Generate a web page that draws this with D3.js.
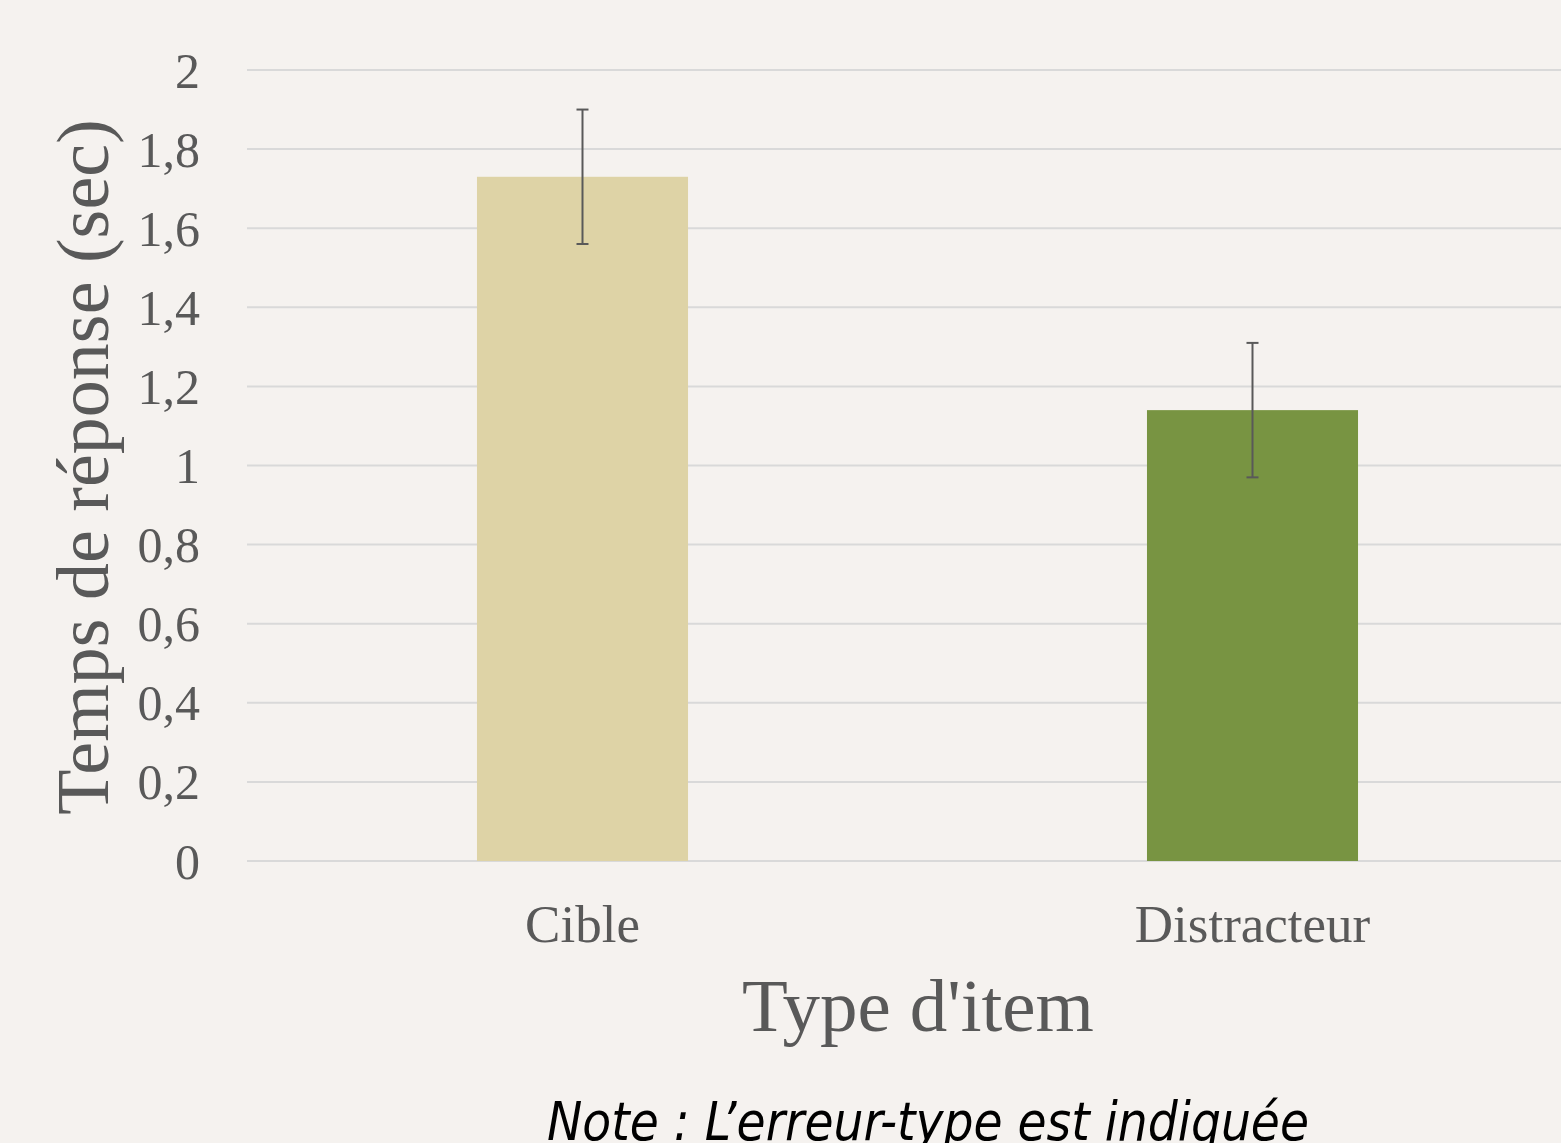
<!DOCTYPE html>
<html><head><meta charset="utf-8">
<script src="https://cdn.jsdelivr.net/npm/d3@7"></script>
<style>html,body{margin:0;padding:0;background:#f5f2ef;}svg{display:block;}</style>
</head><body>
<svg id="c" width="1561" height="1143"></svg>
<script>
const categories = ["Cible", "Distracteur"];
const means = [1.73, 1.14];
const stdErrors = [0.17, 0.17];
const barColors = ["#ded3a6", "#789442"];
const yTicks = [0, 0.2, 0.4, 0.6, 0.8, 1, 1.2, 1.4, 1.6, 1.8, 2];
const yTitle = "Temps de réponse (sec)";
const xTitle = "Type d'item";
const note = "Note : L’erreur-type est indiquée";

const svg = d3.select("#c");
svg.append("rect").attr("width",1561).attr("height",1143).attr("fill","#f5f2ef");
const x = d3.scaleBand().domain(categories).range([247.5, 1587.5]).paddingInner(0.685).paddingOuter(0.3425);
const y = d3.scaleLinear().domain([0, 2]).range([861, 70]);
const txt = "#595959";
const serif = "'Liberation Serif','Times New Roman',serif";

// gridlines
svg.append("g").selectAll("line").data(yTicks).join("line")
  .attr("x1", 247).attr("x2", 1561)
  .attr("y1", d => y(d)).attr("y2", d => y(d))
  .attr("stroke", "#d9d9d9").attr("stroke-width", 2);

// y axis labels
const fmt = d => String(+d.toFixed(1)).replace(".", ",");
const yAxis = d3.axisLeft(y).tickValues(yTicks).tickFormat(fmt).tickSize(0).tickPadding(0);
const yg = svg.append("g").attr("transform", "translate(200,0)").call(yAxis);
yg.select(".domain").remove();
yg.selectAll("text").attr("font-family", serif).attr("font-size", 50).attr("fill", txt).attr("dy", "0.34em");

// bars
svg.append("g").selectAll("rect").data(categories).join("rect")
  .attr("x", d => x(d)).attr("width", x.bandwidth())
  .attr("y", (d,i) => y(means[i])).attr("height", (d,i) => y(0) - y(means[i]))
  .attr("fill", (d,i) => barColors[i]);

// error bars
const eg = svg.append("g").attr("stroke", "#595959").attr("stroke-width", 2);
categories.forEach((c,i) => {
  const cx = x(c) + x.bandwidth()/2;
  const hi = y(means[i] + stdErrors[i]), lo = y(means[i] - stdErrors[i]);
  eg.append("line").attr("x1", cx).attr("x2", cx).attr("y1", hi).attr("y2", lo);
  eg.append("line").attr("x1", cx-6).attr("x2", cx+6).attr("y1", hi).attr("y2", hi);
  eg.append("line").attr("x1", cx-6).attr("x2", cx+6).attr("y1", lo).attr("y2", lo);
});

// x axis labels
const xAxis = d3.axisBottom(x).tickSize(0).tickPadding(0);
const xg = svg.append("g").attr("transform", "translate(0,942)").call(xAxis);
xg.select(".domain").remove();
xg.selectAll("text").attr("font-family", serif).attr("font-size", 53).attr("fill", txt).attr("dy", 0);

// titles
svg.append("text").attr("x", 918).attr("y", 1031).attr("text-anchor", "middle")
  .attr("font-family", serif).attr("font-size", 75).attr("fill", txt).text(xTitle);
svg.append("text").attr("transform", "translate(108,467) rotate(-90)").attr("text-anchor", "middle")
  .attr("font-family", serif).attr("font-size", 74).attr("fill", txt).text(yTitle);
svg.append("text").attr("x", 928).attr("y", 1140).attr("text-anchor", "middle")
  .attr("font-family", "'DejaVu Sans Condensed','DejaVu Sans',sans-serif").attr("font-style", "italic")
  .attr("font-size", 52.5).attr("fill", "#000").text(note);
</script>
</body></html>
